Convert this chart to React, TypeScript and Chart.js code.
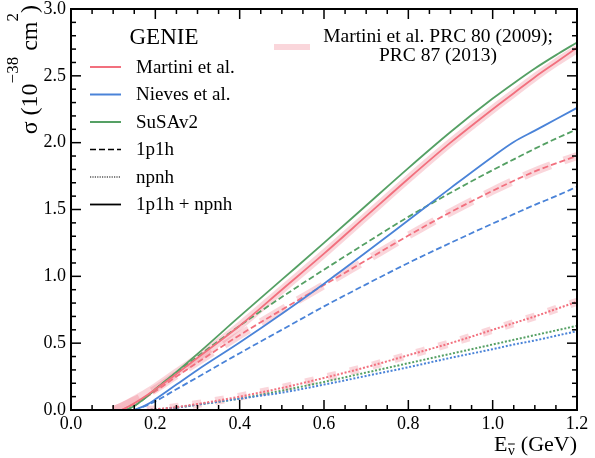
import { useEffect, useRef } from "react";
import { Chart, registerables } from "chart.js";

Chart.register(...registerables);

// Neutrino energy grid (GeV)
const energyGrid = [0.10, 0.12, 0.13, 0.15, 0.18, 0.20, 0.25, 0.30, 0.40, 0.50, 0.60, 0.70, 0.80, 0.90, 1.00, 1.05, 1.10, 1.15, 1.20];

// GENIE Martini et al.
const martiniTotal = [null, 0, 0.015, 0.05, 0.11, 0.155, 0.27, 0.39, 0.63, 0.90, 1.17, 1.45, 1.73, 2.00, 2.25, 2.37, 2.49, 2.60, 2.71];
const martini1p1h = [null, 0, 0.015, 0.045, 0.10, 0.14, 0.25, 0.355, 0.56, 0.75, 0.935, 1.12, 1.305, 1.48, 1.64, 1.715, 1.785, 1.845, 1.90];
const martiniNpnh = [null, null, null, null, 0, 0.005, 0.022, 0.045, 0.10, 0.165, 0.24, 0.32, 0.41, 0.50, 0.60, 0.65, 0.70, 0.755, 0.81];
// GENIE Nieves et al.
const nievesTotal = [null, null, null, 0, 0.04, 0.08, 0.19, 0.30, 0.505, 0.72, 0.945, 1.18, 1.42, 1.66, 1.895, 2.005, 2.09, 2.175, 2.26];
const nieves1p1h = [null, null, null, 0, 0.035, 0.065, 0.155, 0.245, 0.425, 0.60, 0.775, 0.94, 1.10, 1.25, 1.395, 1.465, 1.535, 1.60, 1.67];
const nievesNpnh = [null, null, null, null, 0, 0.004, 0.018, 0.04, 0.085, 0.13, 0.19, 0.255, 0.32, 0.39, 0.455, 0.49, 0.52, 0.555, 0.59];
// GENIE SuSAv2
const susaTotal = [null, null, 0, 0.03, 0.10, 0.155, 0.285, 0.42, 0.70, 0.975, 1.25, 1.53, 1.81, 2.08, 2.33, 2.445, 2.555, 2.655, 2.75];
const susa1p1h = [null, null, 0, 0.03, 0.10, 0.155, 0.28, 0.40, 0.63, 0.845, 1.05, 1.25, 1.445, 1.625, 1.795, 1.875, 1.955, 2.03, 2.10];
const susaNpnh = [null, null, null, null, 0, 0.004, 0.018, 0.04, 0.085, 0.145, 0.21, 0.28, 0.35, 0.42, 0.49, 0.525, 0.56, 0.595, 0.63];
// Martini et al. PRC 80 (2009); PRC 87 (2013) reference
const refTotal = [0, 0.025, 0.04, 0.075, 0.13, 0.17, 0.28, 0.39, 0.63, 0.90, 1.17, 1.45, 1.73, 2.00, 2.25, 2.37, 2.49, 2.60, 2.70];
const ref1p1h = [0, 0.025, 0.04, 0.07, 0.12, 0.155, 0.26, 0.36, 0.56, 0.75, 0.935, 1.12, 1.305, 1.48, 1.64, 1.715, 1.785, 1.845, 1.90];
const refNpnh = [null, null, null, null, 0, 0.005, 0.022, 0.045, 0.10, 0.165, 0.24, 0.32, 0.41, 0.50, 0.60, 0.65, 0.70, 0.755, 0.81];

const xTickLabels = ["0.0", "0.2", "0.4", "0.6", "0.8", "1.0", "1.2"];
const yTickLabels = ["0.0", "0.5", "1.0", "1.5", "2.0", "2.5", "3.0"];
const modelNames = ["Martini et al.", "Nieves et al.", "SuSAv2"];
const styleNames = ["1p1h", "npnh", "1p1h + npnh"];
const refLines = ["Martini et al. PRC 80 (2009);", "PRC 87 (2013)"];

const RED = "#f2707e";
const BLUE = "#4a83d8";
const GREEN = "#55a064";
const BAND = "rgba(240,120,135,0.30)";
const SERIF = "'Liberation Serif', 'Times New Roman', serif";

const DASH = [6, 3];
const DOT = [2, 1.8];

const pts = (vals: (number | null)[]) =>
  energyGrid.map((e, i) => ({ x: e, y: vals[i] }));

function line(ctx: CanvasRenderingContext2D, x1: number, y1: number, x2: number, y2: number) {
  ctx.beginPath();
  ctx.moveTo(x1, y1);
  ctx.lineTo(x2, y2);
  ctx.stroke();
}

const overlay = {
  id: "overlay",
  afterDraw(chart: any) {
    const ctx: CanvasRenderingContext2D = chart.ctx;
    const xs = chart.scales.x;
    const ys = chart.scales.y;
    const { left, right, top, bottom } = chart.chartArea;
    ctx.save();
    ctx.strokeStyle = "#000";
    ctx.fillStyle = "#000";
    ctx.setLineDash([]);
    // ticks
    ctx.lineWidth = 1.5;
    for (let i = 0; i <= 24; i++) {
      const v = i * 0.05;
      const len = i % 4 === 0 ? 10 : 5;
      const px = xs.getPixelForValue(v);
      line(ctx, px, bottom, px, bottom - len);
      line(ctx, px, top, px, top + len);
    }
    for (let i = 0; i <= 30; i++) {
      const v = i * 0.1;
      const len = i % 5 === 0 ? 10 : 5;
      const py = ys.getPixelForValue(v);
      line(ctx, left, py, left + len, py);
      line(ctx, right, py, right - len, py);
    }
    // frame
    ctx.lineWidth = 2;
    ctx.strokeRect(left, top, right - left, bottom - top);

    // tick labels
    ctx.font = `18px ${SERIF}`;
    ctx.textAlign = "center";
    ctx.textBaseline = "middle";
    xTickLabels.forEach((t) => {
      ctx.fillText(t, xs.getPixelForValue(parseFloat(t)), bottom + 14);
    });
    ctx.textAlign = "right";
    yTickLabels.forEach((t) => {
      ctx.fillText(t, left - 5, ys.getPixelForValue(parseFloat(t)));
    });

    // x title: E_{nu-bar} (GeV), right aligned to axis end
    ctx.textBaseline = "alphabetic";
    ctx.textAlign = "left";
    const big = `22px ${SERIF}`;
    const small = `15px ${SERIF}`;
    ctx.font = big;
    const wE = ctx.measureText("E").width;
    const wG = ctx.measureText(" (GeV)").width;
    ctx.font = small;
    const wNu = ctx.measureText("ν").width;
    const xStart = right - (wE + wNu + 1 + wG);
    const base = 451;
    ctx.font = big;
    ctx.fillText("E", xStart, base);
    ctx.font = small;
    ctx.fillText("ν", xStart + wE + 0.5, base + 4);
    ctx.lineWidth = 1;
    line(ctx, xStart + wE + 0.5, base - 7, xStart + wE + 0.5 + wNu, base - 7);
    ctx.font = big;
    ctx.fillText(" (GeV)", xStart + wE + wNu + 1, base);

    // y title: sigma (10^{-38} cm^{2}), rotated, aligned to top
    const yBig = `24px ${SERIF}`;
    const ySmall = `17px ${SERIF}`;
    const segs = [
      { t: "σ (10", f: yBig, dy: 0 },
      { t: "−38", f: ySmall, dy: -19 },
      { t: " cm", f: yBig, dy: 0 },
      { t: "2", f: ySmall, dy: -19 },
      { t: ")", f: yBig, dy: 0 },
    ];
    let total = 0;
    const widths = segs.map((s) => {
      ctx.font = s.f;
      const w = ctx.measureText(s.t).width;
      total += w;
      return w;
    });
    ctx.save();
    ctx.translate(37, top - 4);
    ctx.rotate(-Math.PI / 2);
    let cx = -total;
    segs.forEach((s, i) => {
      ctx.font = s.f;
      ctx.fillText(s.t, cx, s.dy);
      cx += widths[i];
    });
    ctx.restore();

    // GENIE legend
    ctx.textAlign = "center";
    ctx.textBaseline = "middle";
    ctx.font = `23px ${SERIF}`;
    ctx.fillText("GENIE", 164, 38);
    ctx.textAlign = "left";
    ctx.font = `19px ${SERIF}`;
    const rowY = [67, 94.5, 122, 149.5, 177, 204.5];
    const colors = [RED, BLUE, GREEN];
    modelNames.forEach((n, i) => {
      ctx.strokeStyle = colors[i];
      ctx.lineWidth = 2;
      ctx.setLineDash([]);
      line(ctx, 90, rowY[i], 121, rowY[i]);
      ctx.fillText(n, 136, rowY[i] + 1);
    });
    const dashes = [DASH, [1.2, 1.2], []];
    const lws = [1.6, 1.2, 1.8];
    styleNames.forEach((n, i) => {
      ctx.strokeStyle = "#000";
      ctx.lineWidth = lws[i];
      ctx.setLineDash(dashes[i]);
      line(ctx, 90, rowY[i + 3], 121, rowY[i + 3]);
      ctx.setLineDash([]);
      ctx.fillText(n, 136, rowY[i + 3] + 1);
    });

    // reference legend
    ctx.strokeStyle = BAND;
    ctx.lineWidth = 6;
    line(ctx, 274, 47, 310, 47);
    ctx.textAlign = "center";
    ctx.font = `19.5px ${SERIF}`;
    ctx.fillText(refLines[0], 438, 37);
    ctx.fillText(refLines[1], 438, 56);
    ctx.restore();
  },
};

export default function App() {
  const ref = useRef<HTMLCanvasElement | null>(null);
  useEffect(() => {
    if (!ref.current) return;
    const mk = (label: string, vals: (number | null)[], color: string, dash: number[], width: number, order: number) => ({
      label,
      data: pts(vals),
      borderColor: color,
      backgroundColor: color,
      borderWidth: width,
      borderDash: dash,
      pointRadius: 0,
      fill: false,
      spanGaps: false,
      cubicInterpolationMode: "monotone" as const,
      order,
    });
    const chart = new Chart(ref.current, {
      type: "line",
      data: {
        datasets: [
          mk("Martini PRC total", refTotal, BAND, [], 8, 10),
          mk("Martini PRC 1p1h", ref1p1h, BAND, [29, 14], 8, 10),
          mk("Martini PRC npnh", refNpnh, BAND, [9, 14], 8, 10),
          mk("Martini npnh", martiniNpnh, RED, DOT, 2, 3),
          mk("Nieves npnh", nievesNpnh, BLUE, DOT, 2, 3),
          mk("SuSAv2 npnh", susaNpnh, GREEN, DOT, 2, 3),
          mk("Martini 1p1h", martini1p1h, RED, DASH, 1.8, 2),
          mk("Nieves 1p1h", nieves1p1h, BLUE, DASH, 1.8, 2),
          mk("SuSAv2 1p1h", susa1p1h, GREEN, DASH, 1.8, 2),
          mk("Martini total", martiniTotal, RED, [], 1.8, 1),
          mk("Nieves total", nievesTotal, BLUE, [], 1.8, 1),
          mk("SuSAv2 total", susaTotal, GREEN, [], 1.8, 1),
        ],
      },
      options: {
        animation: false,
        responsive: true,
        maintainAspectRatio: false,
        layout: { padding: { left: 71, right: 18, top: 9, bottom: 48 } },
        plugins: { legend: { display: false }, tooltip: { enabled: false } },
        scales: {
          x: { type: "linear", min: 0, max: 1.2, display: false },
          y: { type: "linear", min: 0, max: 3.0, display: false },
        },
      },
      plugins: [overlay],
    });
    return () => chart.destroy();
  }, []);
  return (
    <div style={{ position: "fixed", left: 0, top: 0, width: 595, height: 458, background: "#fff" }}>
      <canvas ref={ref} />
    </div>
  );
}
